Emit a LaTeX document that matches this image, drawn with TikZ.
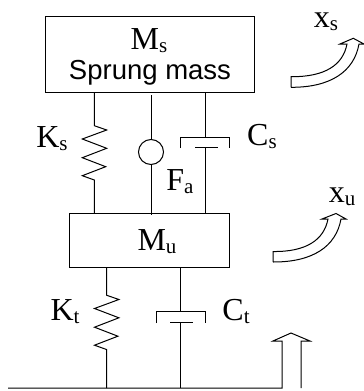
\documentclass[tikz,border=0pt]{standalone}
\usepackage{fontspec}
\setmainfont{Liberation Serif}
\newfontfamily\arialf{Liberation Sans}
\newcommand{\lbl}[2]{{\fontsize{32}{32}\selectfont #1}\raisebox{-3pt}{\fontsize{21}{21}\selectfont #2}}
\tikzset{line/.style={draw=black,line width=1pt},
 massbox/.style={draw=black,line width=1pt,fill=white,minimum width=0pt,inner sep=0pt},
 txt/.style={inner sep=0pt,anchor=base}}
\begin{document}
\begin{tikzpicture}[x=1pt,y=-1pt]
\useasboundingbox (0,0) rectangle (364,391);
\node[massbox,minimum width=209pt,minimum height=76pt] (ms) at (149.5,54.5) {};
\node[massbox,minimum width=160pt,minimum height=54pt] (mu) at (149.5,240.5) {};
\node[txt] (mst) at (149,49) {\lbl{M}{s}};
\node[txt] (sm) at (150,79) {\arialf\fontsize{27.5}{27.5}\selectfont Sprung mass};
\node[txt] (mut) at (157,250) {\lbl{M}{u}};
\node[txt] (ks) at (52,147) {\lbl{K}{s}};
\node[txt] (cs) at (262,145) {\lbl{C}{s}};
\node[txt] (fa) at (180,190) {\lbl{F}{a}};
\node[txt] (kt) at (65,320) {\lbl{K}{t}};
\node[txt] (ct) at (236,320) {\lbl{C}{t}};
\node[txt] (xs) at (326,27) {\lbl{x}{s}};
\node[txt] (xu) at (342,202) {\lbl{x}{u}};
% sprung spring
\coordinate (a1) at (94.3,92.5); \coordinate (a2) at (94.3,213.5);
\draw[line] (a1) -- (94.3,125.7) -- (106.7,130) -- (82.3,139) -- (106.7,148.3) -- (82.3,157.7) -- (105.7,166.7) -- (82.3,175.7) -- (94.3,180) -- (a2);
% actuator
\node[draw=black,line width=1pt,circle,minimum size=25pt,inner sep=0pt] (act) at (151,152) {};
\coordinate (b1) at (151,95); \coordinate (b2) at (151,215);
\draw[line] (b1) -- (act.north); \draw[line] (act.south) -- (b2);
% sprung damper
\coordinate (c1) at (205,92.5); \coordinate (c2) at (205,213.5);
\draw[line] (c1) -- (205,137);
\draw[line] (180.5,148) -- (180.5,137) -- (229.5,137) -- (229.5,148);
\draw[line] (195,147) -- (218,147);
\draw[line] (205,147) -- (c2);
% tyre spring
\coordinate (d1) at (106.5,267.5); \coordinate (d2) at (106.5,388);
\draw[line] (d1) -- (106.5,295.2) -- (118.9,299.5) -- (94.5,308.5) -- (118.9,317.8) -- (94.5,327.2) -- (117.9,336.2) -- (94.5,345.2) -- (106.5,349.5) -- (d2);
% tyre damper
\coordinate (e1) at (180.5,267.5); \coordinate (e2) at (180.5,388);
\draw[line] (e1) -- (180.5,311);
\draw[line] (156,323) -- (156,311) -- (205,311) -- (205,323);
\draw[line] (170,322) -- (193,322);
\draw[line] (180.5,322) -- (e2);
% ground and road arrow
\coordinate (g1) at (8,388); \coordinate (g2) at (282,388); \coordinate (g3) at (301,388);
\draw[line] (g1) -- (g2) -- (282,341) -- (273,341) -- (291,333) -- (310,341) -- (301,341) -- (g3);
% curved arrows
\draw[line] (291,87.3) -- (291,76.7) .. controls (325,77) and (343,65) .. (347,44) -- (340,44) -- (353.3,38.3) -- (364,44) -- (359,44) .. controls (354,72) and (330,87.5) .. (291,87.3);
\draw[line] (273,262) -- (273,251.5) .. controls (306,252) and (324,240) .. (328,219) -- (322,219) -- (336,213.5) -- (346,219) -- (341,219) .. controls (336,247) and (312,262.2) .. (273,262);
\end{tikzpicture}
\end{document}
